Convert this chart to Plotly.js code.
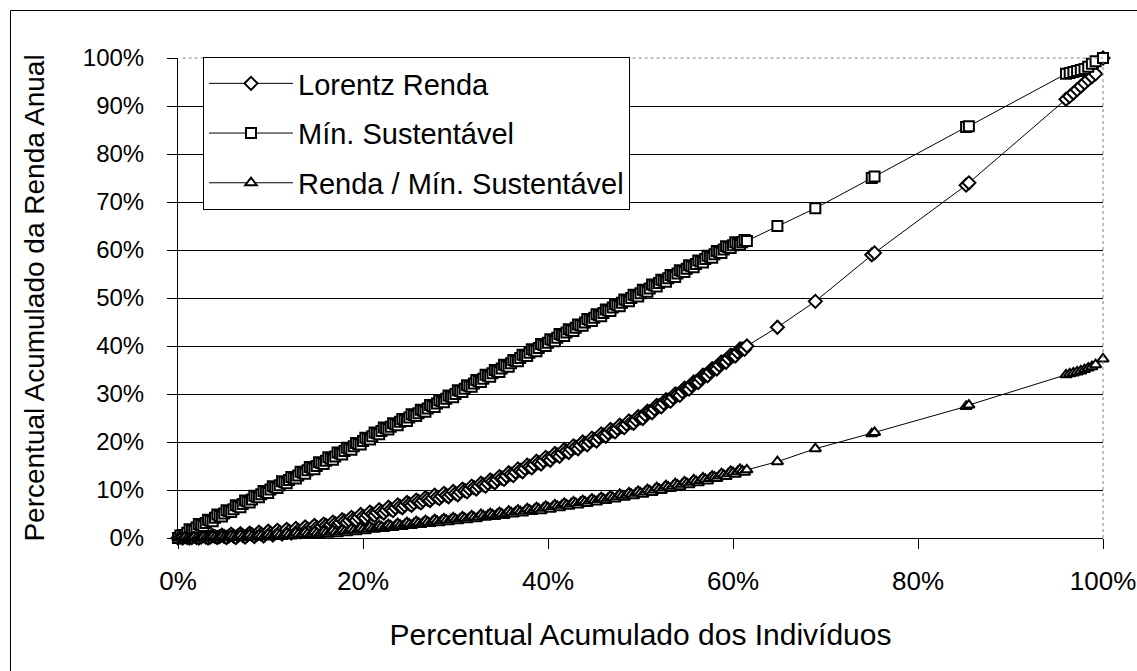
<!DOCTYPE html>
<html>
<head>
<meta charset="utf-8">
<script src="https://cdn.plot.ly/plotly-3.0.1.min.js"></script>
<style>html,body{margin:0;padding:0;background:#fff;}#chart{width:1137px;height:671px;}</style>
</head>
<body>
<div id="chart"></div>
<script>
// Percentual acumulado dos indivíduos (%)
const pctIndividuos = [
0,0.25,0.5,0.75,1,1.25,1.5,1.75,2,2.25,2.5,2.75,3,3.25,3.5,3.75,4,4.25,4.5,4.75,
5,5.25,5.5,5.75,6,6.25,6.5,6.75,7,7.25,7.5,7.75,8,8.25,8.5,8.75,9,9.25,9.5,9.75,
10,10.25,10.5,10.75,11,11.25,11.5,11.75,12,12.25,12.5,12.75,13,13.25,13.5,13.75,14,14.25,14.5,14.75,
15,15.25,15.5,15.75,16,16.25,16.5,16.75,17,17.25,17.5,17.75,18,18.25,18.5,18.75,19,19.25,19.5,19.75,
20,20.25,20.5,20.75,21,21.25,21.5,21.75,22,22.25,22.5,22.75,23,23.25,23.5,23.75,24,24.25,24.5,24.75,
25,25.25,25.5,25.75,26,26.25,26.5,26.75,27,27.25,27.5,27.75,28,28.25,28.5,28.75,29,29.25,29.5,29.75,
30,30.25,30.5,30.75,31,31.25,31.5,31.75,32,32.25,32.5,32.75,33,33.25,33.5,33.75,34,34.25,34.5,34.75,
35,35.25,35.5,35.75,36,36.25,36.5,36.75,37,37.25,37.5,37.75,38,38.25,38.5,38.75,39,39.25,39.5,39.75,
40,40.25,40.5,40.75,41,41.25,41.5,41.75,42,42.25,42.5,42.75,43,43.25,43.5,43.75,44,44.25,44.5,44.75,
45,45.25,45.5,45.75,46,46.25,46.5,46.75,47,47.25,47.5,47.75,48,48.25,48.5,48.75,49,49.25,49.5,49.75,
50,50.25,50.5,50.75,51,51.25,51.5,51.75,52,52.25,52.5,52.75,53,53.25,53.5,53.75,54,54.25,54.5,54.75,
55,55.25,55.5,55.75,56,56.25,56.5,56.75,57,57.25,57.5,57.75,58,58.25,58.5,58.75,59,59.25,59.5,59.75,
60,60.25,60.5,60.75,61,61.25,61.5,
64.8,68.9,75.0,75.3,85.2,85.5,96.0,96.4,96.8,97.2,97.6,98.0,98.4,98.8,99.2,100];

// Lorentz Renda (%)
const lorentzRenda = [
0,0.2, 0.0,0.3, 0.1,0.0, 0.1,0.4, 0.1,0.0, 0.2,0.5, 0.2,0.0, 0.2,0.5, 0.3,0.1, 0.3,0.6,
0.3,0.1, 0.4,0.8, 0.4,0.1, 0.5,0.9, 0.5,0.2, 0.6,1.0, 0.7,0.3, 0.7,1.2, 0.8,0.4, 0.9,1.4,
1.0,0.6, 1.1,1.6, 1.2,0.8, 1.3,1.8, 1.4,1.0, 1.5,2.0, 1.6,1.3, 1.8,2.3, 1.9,1.6, 2.1,2.6,
2.2,1.9, 2.4,2.9, 2.6,2.3, 2.8,3.3, 3.0,2.7, 3.2,3.8, 3.5,3.2, 3.7,4.3, 4.0,3.7, 4.3,4.9,
4.5,4.2, 4.8,5.4, 5.0,4.7, 5.3,5.9, 5.5,5.2, 5.8,6.4, 6.0,5.7, 6.3,6.9, 6.6,6.3, 6.8,7.4,
7.1,6.8, 7.3,7.9, 7.6,7.3, 7.8,8.4, 8.1,7.8, 8.3,8.9, 8.5,8.2, 8.7,9.3, 8.9,8.6, 9.1,9.7,
9.3,9.0, 9.6,10.2, 9.9,9.6, 10.2,10.8, 10.5,10.2, 10.8,11.4, 11.1,10.8, 11.4,12.1, 11.8,11.5, 12.2,12.8,
12.5,12.2, 12.9,13.6, 13.3,13.0, 13.7,14.4, 14.1,13.8, 14.5,15.2, 14.9,14.6, 15.3,16.0, 15.7,15.4, 16.1,16.8,
16.5,16.2, 16.9,17.6, 17.3,17.0, 17.7,18.4, 18.1,17.8, 18.5,19.2, 18.9,18.6, 19.3,20.0, 19.7,19.4, 20.1,20.8,
20.5,20.2, 21.0,21.7, 21.4,21.2, 21.9,22.6, 22.3,22.1, 22.8,23.5, 23.2,23.0, 23.7,24.4, 24.1,23.9, 24.6,25.3,
25.1,24.9, 25.7,26.4, 26.3,26.1, 26.9,27.6, 27.5,27.3, 28.1,28.8, 28.7,28.5, 29.3,30.0, 29.9,29.7, 30.5,31.2,
31.1,31.0, 31.8,32.5, 32.5,32.4, 33.2,33.9, 33.9,33.8, 34.6,35.3, 35.3,35.2, 36.0,36.7, 36.7,36.6, 37.4,38.1,
38.0,37.9, 38.7,39.4, 39.4,39.3, 40.0,
43.9,49.3,59.0,59.4,73.5,74.0,91.4,92.0,92.7,93.4,94.1,94.8,95.5,96.1,96.7,100];

// Mín. Sustentável (%)
const minSustentavel = [
0,0.5, 0.6,0.5, 1.1,1.8, 1.6,1.5, 2.2,2.9, 2.7,2.5, 3.1,3.8, 3.6,3.5, 4.2,4.9, 4.6,4.5,
5.1,5.8, 5.6,5.4, 6.0,6.8, 6.6,6.4, 7.1,7.8, 7.6,7.4, 8.0,8.8, 8.6,8.5, 9.1,9.8, 9.6,9.4,
10.1,10.8, 10.6,10.4, 11.0,11.8, 11.6,11.4, 12.1,12.7, 12.5,12.4, 13.0,13.8, 13.6,13.4, 14.1,14.8, 14.5,14.3,
15.0,15.8, 15.6,15.4, 16.1,16.8, 16.5,16.3, 17.0,17.8, 17.6,17.4, 18.1,18.8, 18.6,18.4, 19.1,19.8, 19.6,19.5,
20.2,20.9, 20.7,20.5, 21.2,22.0, 21.8,21.6, 22.3,23.0, 22.8,22.6, 23.2,23.9, 23.7,23.5, 24.2,24.8, 24.6,24.4,
25.1,25.8, 25.6,25.4, 26.0,26.7, 26.5,26.3, 27.0,27.7, 27.5,27.3, 28.0,28.7, 28.5,28.3, 29.0,29.7, 29.5,29.3,
30.0,30.8, 30.6,30.4, 31.1,31.8, 31.6,31.5, 32.2,32.9, 32.7,32.5, 33.2,34.0, 33.8,33.6, 34.3,35.0, 34.8,34.6,
35.3,36.1, 35.9,35.7, 36.4,37.1, 36.9,36.8, 37.5,38.2, 38.0,37.9, 38.6,39.3, 39.1,38.9, 39.6,40.4, 40.2,40.0,
40.7,41.4, 41.2,41.0, 41.7,42.5, 42.3,42.1, 42.8,43.5, 43.3,43.1, 43.8,44.5, 44.3,44.2, 44.9,45.6, 45.4,45.2,
45.9,46.6, 46.4,46.2, 46.9,47.6, 47.4,47.3, 48.0,48.7, 48.5,48.3, 49.0,49.7, 49.5,49.3, 50.0,50.7, 50.5,50.3,
51.0,51.7, 51.5,51.3, 52.0,52.8, 52.6,52.4, 53.1,53.8, 53.6,53.4, 54.1,54.8, 54.6,54.4, 55.1,55.8, 55.6,55.4,
56.1,56.8, 56.6,56.4, 57.1,57.8, 57.6,57.4, 58.1,58.8, 58.6,58.4, 59.1,59.8, 59.6,59.4, 60.1,60.8, 60.6,60.4,
61.0,61.6, 61.3,61.1, 61.6,62.1, 61.9,
65.0,68.7,75.0,75.3,85.6,85.8,96.7,96.9,97.1,97.3,97.5,97.7,98.2,98.8,99.3,100];

// Renda / Mín. Sustentável (%)
const rendaMinSust = [
0,0.1, 0.0,0.2, 0.0,0.0, 0.1,0.3, 0.1,0.0, 0.1,0.3, 0.1,0.0, 0.2,0.4, 0.2,0.0, 0.2,0.4,
0.2,0.1, 0.3,0.5, 0.3,0.1, 0.3,0.6, 0.3,0.1, 0.4,0.7, 0.4,0.2, 0.4,0.7, 0.5,0.2, 0.5,0.8,
0.5,0.3, 0.6,0.9, 0.6,0.3, 0.6,1.0, 0.7,0.4, 0.7,1.1, 0.8,0.5, 0.8,1.2, 0.9,0.6, 0.9,1.3,
1.0,0.7, 1.0,1.4, 1.1,0.8, 1.2,1.6, 1.2,0.9, 1.3,1.7, 1.4,1.1, 1.5,1.9, 1.6,1.3, 1.7,2.1,
1.8,1.5, 1.9,2.3, 2.0,1.8, 2.2,2.6, 2.3,2.0, 2.4,2.8, 2.5,2.2, 2.6,3.0, 2.7,2.4, 2.8,3.2,
2.9,2.6, 3.0,3.4, 3.1,2.8, 3.2,3.6, 3.3,3.0, 3.4,3.8, 3.5,3.2, 3.6,4.0, 3.7,3.4, 3.8,4.2,
3.9,3.6, 4.0,4.4, 4.1,3.8, 4.2,4.6, 4.3,4.0, 4.4,4.9, 4.6,4.3, 4.7,5.1, 4.8,4.5, 4.9,5.3,
5.0,4.7, 5.1,5.6, 5.3,5.0, 5.4,5.8, 5.5,5.2, 5.6,6.1, 5.8,5.5, 5.9,6.3, 6.0,5.7, 6.2,6.6,
6.3,6.0, 6.5,6.9, 6.6,6.3, 6.8,7.2, 6.9,6.6, 7.1,7.5, 7.2,6.9, 7.4,7.8, 7.5,7.2, 7.7,8.1,
7.8,7.5, 8.0,8.4, 8.1,7.8, 8.3,8.7, 8.4,8.1, 8.6,9.1, 8.8,8.5, 8.9,9.4, 9.1,8.8, 9.3,9.7,
9.4,9.1, 9.6,10.1, 9.8,9.5, 10.0,10.5, 10.2,9.9, 10.4,10.9, 10.6,10.3, 10.8,11.3, 11.0,10.7, 11.2,11.7,
11.4,11.1, 11.6,12.1, 11.8,11.5, 12.0,12.5, 12.2,11.9, 12.4,12.9, 12.7,12.4, 12.9,13.4, 13.1,12.8, 13.4,13.9,
13.6,13.3, 13.8,14.3, 14.0,13.7, 14.2,
15.9,18.6,21.7,22.0,27.4,27.7,34.0,34.2,34.4,34.6,34.8,35.1,35.4,35.7,36.1,37.3];

const seriesNames = ['Lorentz Renda', 'Mín. Sustentável', 'Renda / Mín. Sustentável'];
const xTickVals = [0, 20, 40, 60, 80, 100];
const xTickText = ['0%', '20%', '40%', '60%', '80%', '100%'];
const yTickVals = [0, 10, 20, 30, 40, 50, 60, 70, 80, 90, 100];
const yTickText = ['0%', '10%', '20%', '30%', '40%', '50%', '60%', '70%', '80%', '90%', '100%'];

const FONT = 'Liberation Sans, Arial, sans-serif';

function mk(name, y, symbol, group) {
  return {
    type: 'scatter', mode: 'lines+markers', name: name,
    x: pctIndividuos, y: y,
    legendgroup: group,
    line: {color: '#000', width: 1},
    marker: {symbol: symbol, size: 10, color: '#fff', line: {color: '#000', width: 2}},
    cliponaxis: false,
    hoverinfo: 'skip'
  };
}

const data = [
  mk(seriesNames[0], lorentzRenda, 'diamond', 'g1'),
  mk(seriesNames[1], minSustentavel, 'square', 'g2'),
  mk(seriesNames[2], rendaMinSust, 'triangle-up', 'g3')
];

const L = 178, R = 34, T = 58, B = 133;
const W = 1137 - L - R, H = 671 - T - B;
const px = v => (v - L) / W;
const py = v => (671 - B - v) / H;

const layout = {
  width: 1137, height: 671,
  margin: {l: L, r: R, t: T, b: B},
  paper_bgcolor: '#fff', plot_bgcolor: '#fff',
  font: {family: FONT, color: '#000', size: 22},
  showlegend: true,
  legend: {
    x: px(203), y: py(57), xanchor: 'left', yanchor: 'top',
    bgcolor: '#fff', bordercolor: '#000', borderwidth: 1,
    font: {family: FONT, size: 29, color: '#000'},
    traceorder: 'grouped', tracegroupgap: 9, itemwidth: 84
  },
  xaxis: {
    range: [0, 100], tickvals: xTickVals, ticktext: xTickText,
    showgrid: false, zeroline: false,
    showline: true, linecolor: '#000', linewidth: 1,
    ticks: 'outside', ticklen: 10, tickcolor: '#000', tickwidth: 1,
    tickfont: {family: FONT, size: 26, color: '#000'},
    ticklabelstandoff: 10,
    title: {text: 'Percentual Acumulado dos Indivíduos', font: {family: FONT, size: 30, color: '#000'}, standoff: 28}
  },
  yaxis: {
    range: [0, 100], tickvals: yTickVals, ticktext: yTickText,
    showgrid: true, gridcolor: '#000', gridwidth: 1, zeroline: false,
    showline: true, linecolor: '#000', linewidth: 1,
    ticks: 'outside', ticklen: 10, tickcolor: '#000', tickwidth: 1,
    tickfont: {family: FONT, size: 24, color: '#000'},
    ticklabelstandoff: 18,
    title: {text: 'Percentual Acumulado da Renda Anual', font: {family: FONT, size: 28, color: '#000'}, standoff: 30}
  },
  shapes: [
    {type: 'line', xref: 'paper', yref: 'paper', x0: 0, x1: 1, y0: 1, y1: 1, line: {color: '#fff', width: 1}, layer: 'below'},
    {type: 'line', xref: 'paper', yref: 'paper', x0: 0.005, x1: 1, y0: 1, y1: 1, line: {color: '#808080', width: 1, dash: 'dot'}},
    {type: 'line', xref: 'paper', yref: 'paper', x0: 1, x1: 1, y0: 0, y1: 1, line: {color: '#808080', width: 1, dash: 'dot'}},
    {type: 'line', xref: 'paper', yref: 'paper', x0: px(10.5), x1: px(10.5), y0: py(10.5), y1: py(700), line: {color: '#000', width: 1}},
    {type: 'line', xref: 'paper', yref: 'paper', x0: px(10.5), x1: px(1140), y0: py(10.5), y1: py(10.5), line: {color: '#000', width: 1}}
  ]
};

Plotly.newPlot('chart', data, layout, {staticPlot: true, displayModeBar: false});
</script>
</body>
</html>
